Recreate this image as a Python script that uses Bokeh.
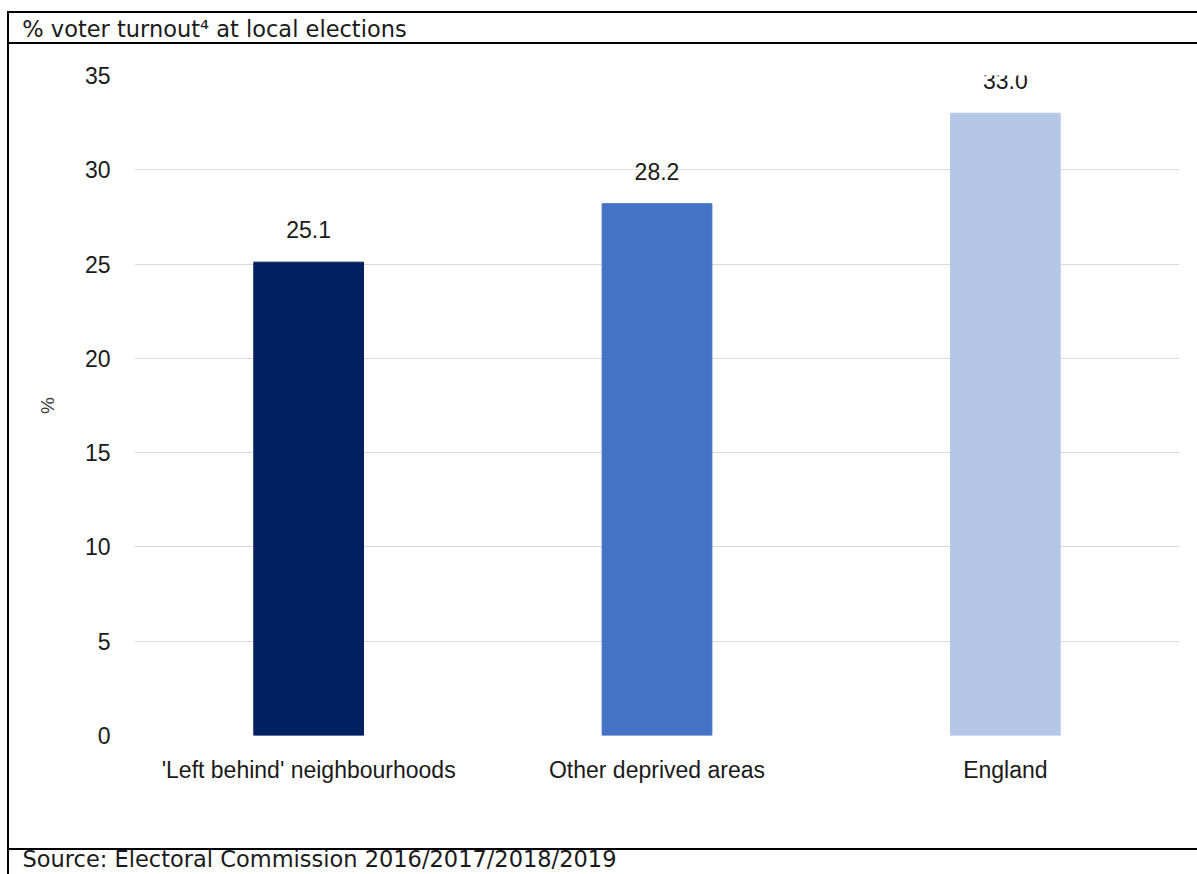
from bokeh.plotting import figure
from bokeh.models import (ColumnDataSource, Range1d, LabelSet, FixedTicker,
                          LinearAxis, InlineStyleSheet)
from bokeh.core.properties import value
from bokeh.embed import file_html
from bokeh.resources import INLINE

# ---- data ----
categories = ["'Left behind' neighbourhoods", "Other deprived areas", "England"]
turnout = [25.1, 28.2, 33.0]
bar_colors = ["#002060", "#4472C4", "#B4C7E7"]
y_ticks = [0, 5, 10, 15, 20, 25, 30, 35]
header_text = "% voter turnout\u2074 at local elections"
source_text = "Source: Electoral Commission 2016/2017/2018/2019"
y_title = "%"

positions = list(range(len(categories)))
labels = [f"{v:.1f}" for v in turnout]
src = ColumnDataSource(dict(x=positions, val=turnout, color=bar_colors, lab=labels))

W, H = 1197, 874
FRAME_L, FRAME_R, FRAME_T, FRAME_B = 134, 1179, 75, 735
TXT_FONT = "DejaVu Sans"
NUM_FONT = "Liberation Sans"
HDR_X, SRC_X = 214, 319          # centre positions (pixels) of the header / source texts

# panel rules (box borders) drawn around the chart
panel_css = InlineStyleSheet(css="""
:host { position: relative; }
:host::before {
  content: ""; position: absolute; left: 7px; top: 11px; width: 1190px; height: 839px;
  box-sizing: border-box; border-top: 2px solid #000; border-left: 2px solid #000;
  border-bottom: 2px solid #000; pointer-events: none; z-index: 10;
}
:host::after {
  content: ""; position: absolute; left: 7px; top: 42px; width: 1190px; height: 832px;
  box-sizing: border-box; border-top: 2px solid #000; border-left: 2px solid #000;
  pointer-events: none; z-index: 10;
}
""")

p = figure(width=W, height=H, x_range=Range1d(-0.5, len(categories) - 0.5),
           y_range=Range1d(0, 35), output_backend="svg", toolbar_location=None,
           min_border_left=FRAME_L, min_border_right=W - FRAME_R,
           min_border_top=FRAME_T, min_border_bottom=H - FRAME_B,
           stylesheets=[panel_css])
p.extra_x_ranges = {"px": Range1d(FRAME_L, FRAME_R)}
p.outline_line_color = None
p.background_fill_color = "white"
p.border_fill_color = "white"

p.vbar(x="x", top="val", width=0.315, color="color", source=src)

p.add_layout(LabelSet(x="x", y="val", text="lab", source=src, text_align="center",
                      text_baseline="alphabetic", y_offset=24, text_font_size="23px",
                      text_font=value(NUM_FONT), text_color="#1a1a1a"))

p.xgrid.grid_line_color = None
p.ygrid.grid_line_color = "#d9d9d9"
p.ygrid.grid_line_width = 1


def plain(ax, font, size):
    ax.axis_line_color = None
    ax.major_tick_line_color = None
    ax.minor_tick_line_color = None
    ax.major_tick_out = 0
    ax.major_tick_in = 0
    ax.major_label_text_font = font
    ax.major_label_text_font_size = size
    ax.major_label_text_color = "#1a1a1a"


p.xaxis.ticker = FixedTicker(ticks=positions)
p.xaxis.major_label_overrides = {i: c for i, c in zip(positions, categories)}
p.yaxis.ticker = FixedTicker(ticks=y_ticks)
plain(p.xaxis[0], NUM_FONT, "23px")
plain(p.yaxis[0], NUM_FONT, "23px")
p.yaxis.major_label_standoff = 24
p.xaxis.major_label_standoff = 21
p.yaxis.axis_label = y_title
p.yaxis.axis_label_text_font = NUM_FONT
p.yaxis.axis_label_text_font_size = "19px"
p.yaxis.axis_label_text_font_style = "normal"
p.yaxis.axis_label_text_color = "#404040"
p.yaxis.axis_label_standoff = 24

# header text (above the plot) and source text (below the category labels)
hdr_axis = LinearAxis(x_range_name="px", ticker=FixedTicker(ticks=[HDR_X]),
                      major_label_overrides={HDR_X: header_text})
plain(hdr_axis, TXT_FONT, "22.5px")
hdr_axis.major_label_standoff = 34
p.add_layout(hdr_axis, "above")

src_axis = LinearAxis(x_range_name="px", ticker=FixedTicker(ticks=[SRC_X]),
                      major_label_overrides={SRC_X: source_text})
plain(src_axis, TXT_FONT, "22.5px")
src_axis.major_label_standoff = 60
p.add_layout(src_axis, "below")

open("out.html", "w").write(file_html(p, INLINE))
